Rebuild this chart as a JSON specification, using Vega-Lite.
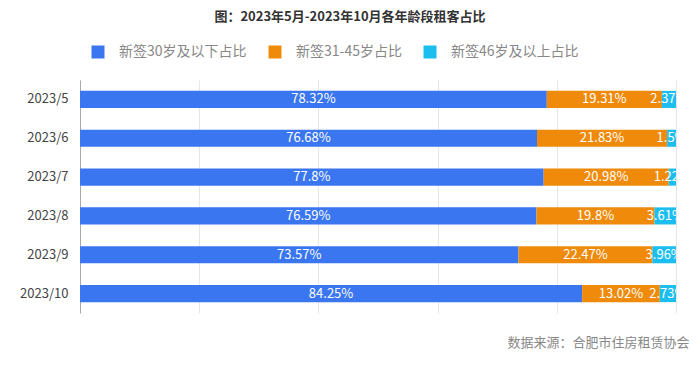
{
  "$schema": "https://vega.github.io/schema/vega-lite/v6.json",
  "width": 596,
  "height": 233,
  "autosize": {"type": "none"},
  "padding": {"left": 80, "top": 80, "right": 24, "bottom": 63},
  "background": "white",
  "config": {
    "font": "Noto Sans CJK SC",
    "view": {"stroke": null}
  },
  "title": {
    "text": "图：2023年5月-2023年10月各年龄段租客占比",
    "fontSize": 13,
    "fontWeight": "bold",
    "color": "#333333",
    "anchor": "middle",
    "dx": -28,
    "offset": 21,
    "font": "Noto Sans CJK SC"
  },
  "data": {
    "values": [
      {"month": "2023/5", "group": "新签30岁及以下占比", "order": 1, "share": 0.7832},
      {"month": "2023/5", "group": "新签31-45岁占比", "order": 2, "share": 0.1931},
      {"month": "2023/5", "group": "新签46岁及以上占比", "order": 3, "share": 0.0237},
      {"month": "2023/6", "group": "新签30岁及以下占比", "order": 1, "share": 0.7668},
      {"month": "2023/6", "group": "新签31-45岁占比", "order": 2, "share": 0.2183},
      {"month": "2023/6", "group": "新签46岁及以上占比", "order": 3, "share": 0.015},
      {"month": "2023/7", "group": "新签30岁及以下占比", "order": 1, "share": 0.778},
      {"month": "2023/7", "group": "新签31-45岁占比", "order": 2, "share": 0.2098},
      {"month": "2023/7", "group": "新签46岁及以上占比", "order": 3, "share": 0.0122},
      {"month": "2023/8", "group": "新签30岁及以下占比", "order": 1, "share": 0.7659},
      {"month": "2023/8", "group": "新签31-45岁占比", "order": 2, "share": 0.198},
      {"month": "2023/8", "group": "新签46岁及以上占比", "order": 3, "share": 0.0361},
      {"month": "2023/9", "group": "新签30岁及以下占比", "order": 1, "share": 0.7357},
      {"month": "2023/9", "group": "新签31-45岁占比", "order": 2, "share": 0.2247},
      {"month": "2023/9", "group": "新签46岁及以上占比", "order": 3, "share": 0.0396},
      {"month": "2023/10", "group": "新签30岁及以下占比", "order": 1, "share": 0.8425},
      {"month": "2023/10", "group": "新签31-45岁占比", "order": 2, "share": 0.1302},
      {"month": "2023/10", "group": "新签46岁及以上占比", "order": 3, "share": 0.0273}
    ]
  },
  "encoding": {
    "y": {
      "field": "month",
      "type": "nominal",
      "sort": ["2023/5", "2023/6", "2023/7", "2023/8", "2023/9", "2023/10"],
      "scale": {"paddingInner": 0.56, "paddingOuter": 0.28},
      "axis": {
        "title": null,
        "ticks": false,
        "domain": true,
        "domainColor": "#aaaaaa",
        "domainWidth": 1,
        "labelFontSize": 13,
        "labelColor": "#444444",
        "labelPadding": 12,
        "labelFont": "Noto Sans CJK SC"
      }
    },
    "x": {
      "field": "share",
      "type": "quantitative",
      "stack": "zero",
      "scale": {"domain": [0, 1], "nice": false},
      "axis": {
        "values": [0, 0.2, 0.4, 0.6, 0.8, 1],
        "labels": false,
        "ticks": false,
        "domain": false,
        "grid": true,
        "gridColor": "#e6e6e6",
        "title": "数据来源：合肥市住房租赁协会",
        "titleFontSize": 13,
        "titleFontWeight": "normal",
        "titleColor": "#888888",
        "titleFont": "Noto Sans CJK SC",
        "titleAlign": "right",
        "titleAnchor": "end",
        "titleBaseline": "middle",
        "titleX": 609,
        "titleY": 29
      }
    },
    "order": {"field": "order", "type": "quantitative"}
  },
  "layer": [
    {
      "mark": {"type": "bar", "clip": true},
      "encoding": {
        "color": {
          "field": "group",
          "type": "nominal",
          "sort": ["新签30岁及以下占比", "新签31-45岁占比", "新签46岁及以上占比"],
          "scale": {
            "domain": ["新签30岁及以下占比", "新签31-45岁占比", "新签46岁及以上占比"],
            "range": ["#3A76F0", "#F08A0B", "#1CBEF0"]
          },
          "legend": {
            "title": null,
            "orient": "none",
            "direction": "horizontal",
            "legendX": 11,
            "legendY": -35,
            "padding": 0,
            "symbolType": "square",
            "symbolSize": 169,
            "symbolStrokeWidth": 0,
            "symbolOpacity": 1,
            "labelFontSize": 14,
            "labelColor": "#888888",
            "labelFont": "Noto Sans CJK SC",
            "labelOffset": 14,
            "columnPadding": 21
          }
        }
      }
    },
    {
      "mark": {"type": "text", "clip": true, "color": "white", "fontSize": 13, "align": "center", "baseline": "middle", "font": "Noto Sans CJK SC"},
      "encoding": {
        "x": {"field": "share", "type": "quantitative", "stack": "zero", "bandPosition": 0.5},
        "text": {"field": "share", "type": "quantitative", "format": ".2~%"}
      }
    }
  ]
}
